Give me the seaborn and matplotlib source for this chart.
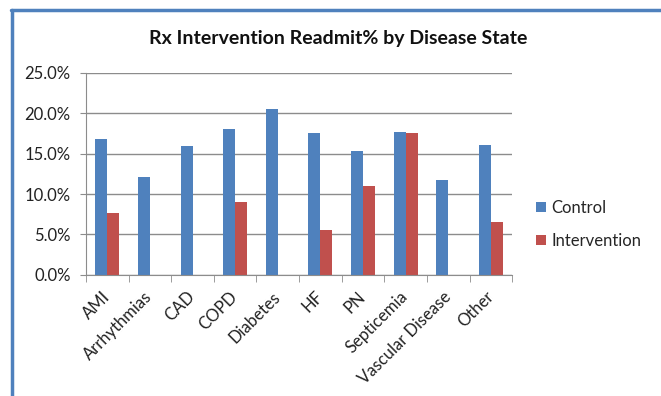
import numpy as np
import pandas as pd
import matplotlib
matplotlib.use("Agg")
import matplotlib.pyplot as plt
import seaborn as sns
from matplotlib.ticker import FuncFormatter, FixedLocator

# 数据
diseases = ["AMI", "Arrhythmias", "CAD", "COPD", "Diabetes", "HF", "PN",
            "Septicemia", "Vascular Disease", "Other"]
control = [16.8, 12.1, 15.9, 18.1, 20.5, 17.5, 15.3, 17.7, 11.7, 16.1]
intervention = [7.7, np.nan, np.nan, 9.05, np.nan, 5.5, 11.0, 17.6, np.nan, 6.5]
groups = ["Control", "Intervention"]

df = pd.DataFrame({
    "disease": diseases * 2,
    "group": [groups[0]] * len(diseases) + [groups[1]] * len(diseases),
    "rate": control + intervention,
})

sns.set_style("white")
plt.rcParams["font.family"] = ["Lato", "DejaVu Sans"]

fig = plt.figure(figsize=(6.61, 3.96), dpi=100)
ax = fig.add_axes([0.130, 0.306, 0.645, 0.510])

sns.barplot(data=df, x="disease", y="rate", hue="group", order=diseases,
            palette=["#4F81BD", "#C0504D"], width=0.56, saturation=1,
            gap=0, linewidth=0, ax=ax)

ax.set_ylim(0, 25)
ax.set_xlim(-0.5, len(diseases) - 0.5)
ax.set_yticks([0, 5, 10, 15, 20, 25])
ax.yaxis.set_major_formatter(FuncFormatter(lambda v, p: f"{v:.1f}%"))
ax.grid(axis="y", color="#8c8c8c", linewidth=1)
ax.set_axisbelow(True)
for s in ["top", "right"]:
    ax.spines[s].set_visible(False)
for s in ["left", "bottom"]:
    ax.spines[s].set_color("#8c8c8c")
ax.set_xlabel("")
ax.set_ylabel("")

# 刻度
ax.tick_params(axis="y", length=4, color="#8c8c8c", labelsize=12,
               labelcolor="#222222", direction="out", left=True, pad=7)
ax.tick_params(axis="x", which="major", length=0, labelsize=12,
               labelcolor="#222222", pad=14)
ax.xaxis.set_minor_locator(FixedLocator(np.arange(-0.5, len(diseases), 1.0)))
ax.tick_params(axis="x", which="minor", length=5, color="#8c8c8c",
               direction="out", bottom=True)
plt.setp(ax.get_xticklabels(), rotation=45, ha="right", va="center",
         rotation_mode="anchor")

ax.legend(loc="center left", bbox_to_anchor=(1.02, 0.25), frameon=False,
          fontsize=12, handlelength=0.6, handleheight=0.6, handletextpad=0.35,
          labelspacing=1.0)

fig.text(0.511, 0.904, "Rx Intervention Readmit% by Disease State",
         ha="center", va="center", fontsize=14, fontweight="bold",
         color="#111111")

# 外框
fig.add_artist(plt.Line2D([0.018, 0.018], [0, 0.975], color="#4F81BD",
                          linewidth=2.5, transform=fig.transFigure))
fig.add_artist(plt.Line2D([0.0165, 1], [0.975, 0.975], color="#4F81BD",
                          linewidth=2.5, transform=fig.transFigure))

fig.savefig("out.png", dpi=100)
